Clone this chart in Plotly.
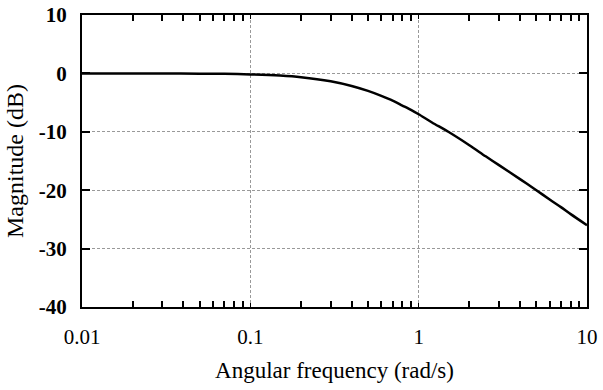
import plotly.graph_objects as go

freq = [0.01, 0.02, 0.03, 0.05, 0.07, 0.1, 0.15, 0.2, 0.3, 0.4, 0.5, 0.6, 0.7, 0.8, 0.9, 1.0,
        1.2, 1.5, 2.0, 2.5, 3.0, 4.0, 5.0, 6.0, 7.0, 8.0, 10.0]
mag_db = [0.0, 0.0, -0.02, -0.04, -0.08, -0.17, -0.37, -0.64, -1.34, -2.15, -3.0, -3.85,
          -4.65, -5.5, -6.25, -7.0, -8.4, -10.0, -12.3, -14.2, -15.7, -18.1, -20.0, -21.6,
          -22.9, -24.1, -26.0]

x_ticks = [0.01, 0.1, 1, 10]
x_tick_labels = ["0.01", "0.1", "1", "10"]
y_ticks = [10, 0, -10, -20, -30, -40]
y_tick_labels = ["10", "0", "-10", "-20", "-30", "-40"]

minor_x = [m * d for d in (0.01, 0.1, 1) for m in range(2, 10)]

fig = go.Figure()
fig.add_trace(go.Scatter(x=freq, y=mag_db, mode="lines",
                         line=dict(color="black", width=2.5, shape="spline", smoothing=0.8),
                         showlegend=False, hoverinfo="skip"))

serif = "Liberation Serif"
fig.update_layout(
    width=603, height=390,
    margin=dict(l=82, r=16, t=15, b=83),
    paper_bgcolor="white", plot_bgcolor="white",
    font=dict(family=serif, color="black"),
)
fig.update_xaxes(
    type="log", range=[-2, 1], automargin=False,
    tickmode="array", tickvals=x_ticks, ticktext=x_tick_labels,
    tickfont=dict(size=21, family=serif),
    ticks="inside", ticklen=4, tickcolor="black", ticklabelstandoff=10,
    showline=True, linecolor="black", linewidth=2, mirror="allticks",
    showgrid=True, gridcolor="#999999", griddash="3px,2px", gridwidth=1,
    minor=dict(ticks="inside", ticklen=6, tickcolor="black", tickwidth=1.5,
               tickmode="array", tickvals=minor_x, showgrid=False),
    title=dict(text="Angular frequency (rad/s)", font=dict(size=23, family=serif), standoff=14),
    zeroline=False,
)
fig.update_yaxes(
    range=[-40, 10], automargin=False,
    tickmode="array", tickvals=y_ticks, ticktext=y_tick_labels,
    tickfont=dict(size=21, family=serif, weight="bold"),
    ticks="inside", ticklen=8, tickcolor="black", tickwidth=1.5, ticklabelstandoff=9,
    showline=True, linecolor="black", linewidth=2, mirror="allticks",
    showgrid=True, gridcolor="#999999", griddash="3px,2px", gridwidth=1,
    title=dict(text="Magnitude (dB)", font=dict(size=24, family=serif), standoff=8),
    zeroline=False,
)

fig.write_html("out.html")
